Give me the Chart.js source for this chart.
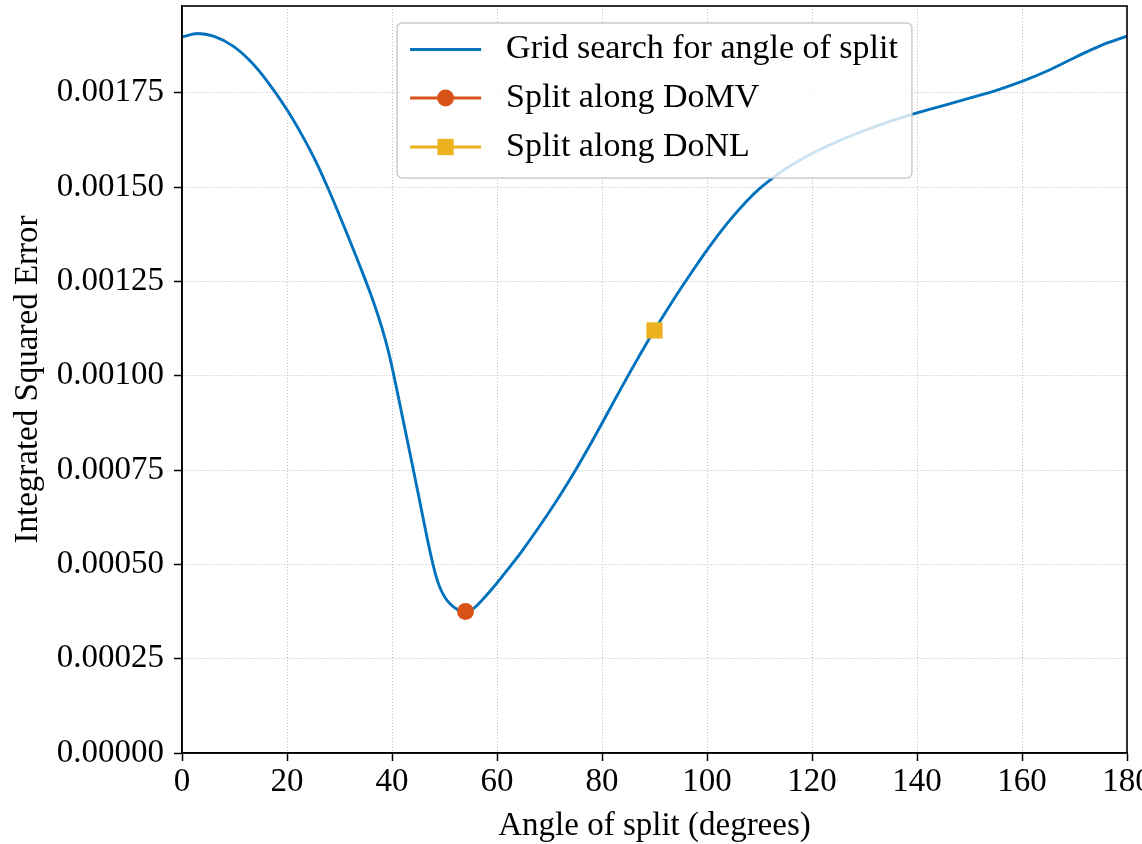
<!DOCTYPE html>
<html>
<head>
<meta charset="utf-8">
<script src="https://cdn.jsdelivr.net/npm/chart.js@4.4.1/dist/chart.umd.min.js"></script>
<style>
html,body{margin:0;padding:0;background:#ffffff;overflow:hidden}
canvas{display:block}
</style>
</head>
<body>
<canvas id="c" width="1142" height="844" style="width:1142px;height:844px"></canvas>
<script>
// ---- data ----
const angles = [0,3,6,9.8,13,16.1,20,22.8,25.6,28,31,34,36,37.5,38.7,39.6,40.5,41.5,43,44.3,45.5,46.7,47.8,48.6,49.4,50.2,51,52.5,54,55.5,57,59,61,63,65,67.5,70,72.5,75,77.5,80,82.5,85,87.5,90,92.5,95,97.5,100,102.5,105,107.5,110,112.5,115,117.5,120,125,130,135,140,145,150,155,160,165,170,175,180];
const errors = [0.001898,0.001907,0.001900,0.001873,0.001834,0.001783,0.001705,0.001639,0.001565,0.001491,0.001391,0.001287,0.001214,0.001153,0.001097,0.001048,0.000991,0.000924,0.000823,0.000735,0.000652,0.000569,0.000500,0.000459,0.000430,0.000410,0.000396,0.000380,0.000375,0.000383,0.000403,0.000434,0.000468,0.000503,0.000540,0.000589,0.000640,0.000694,0.000751,0.000811,0.000874,0.000938,0.001001,0.001062,0.001121,0.001177,0.001231,0.001283,0.001333,0.001380,0.001423,0.001462,0.001496,0.001524,0.001549,0.001570,0.001589,0.001622,0.001650,0.001675,0.001697,0.001716,0.001736,0.001756,0.001780,0.001809,0.001843,0.001875,0.001900];
const domvAngle = [54];
const domvError = [0.000375];
const donlAngle = [90];
const donlError = [0.00112];
const seriesLabels = ['Grid search for angle of split','Split along DoMV','Split along DoNL'];
const xTickValues = [0,20,40,60,80,100,120,140,160,180];
const yTickValues = [0,0.00025,0.0005,0.00075,0.001,0.00125,0.0015,0.00175];
const xTitle = 'Angle of split (degrees)';
const yTitle = 'Integrated Squared Error';

const toPts = (xs, ys) => xs.map((x, i) => ({x: x, y: ys[i]}));
const FONT = '"Liberation Serif", "Times New Roman", serif';
const BLUE = '#0072BD', RED = '#D95319', YELLOW = '#EDB120';

const frameAndLegend = {
  id: 'frameAndLegend',
  afterDatasetsDraw(chart) {
    const ctx = chart.ctx, a = chart.chartArea;
    ctx.save();
    ctx.font = '34px ' + FONT;
    const ds = chart.data.datasets;
    const tw = Math.max(...ds.map(d => ctx.measureText(d.label).width));
    const hx = 13, hw = 71, gap = 25, rp = 14;
    const w = hx + hw + gap + tw + rp, h = 155;
    const x0 = (a.left + a.right) / 2 - w / 2, y0 = a.top + 17;
    ctx.beginPath();
    ctx.roundRect(x0, y0, w, h, 5);
    ctx.fillStyle = 'rgba(255,255,255,0.8)';
    ctx.fill();
    ctx.lineWidth = 1.5;
    ctx.strokeStyle = '#cccccc';
    ctx.stroke();
    const rows = [26.5, 75, 124];
    ds.forEach((d, i) => {
      const cy = y0 + rows[i];
      ctx.beginPath();
      ctx.moveTo(x0 + hx, cy);
      ctx.lineTo(x0 + hx + hw, cy);
      ctx.strokeStyle = d.borderColor;
      ctx.lineWidth = 2.8;
      ctx.stroke();
      const cx = x0 + hx + hw / 2;
      ctx.fillStyle = d.backgroundColor;
      if (d.pointStyle === 'circle' && d.showLine === false) {
        ctx.beginPath(); ctx.arc(cx, cy, d.pointRadius, 0, Math.PI * 2); ctx.fill();
      } else if (d.pointStyle === 'rect') {
        const s = d.pointRadius * Math.SQRT1_2;
        ctx.fillRect(cx - s, cy - s, 2 * s, 2 * s);
      }
      ctx.fillStyle = '#000000';
      ctx.textBaseline = 'middle';
      ctx.textAlign = 'left';
      ctx.fillText(d.label, x0 + hx + hw + gap, cy);
    });
    ctx.restore();
  },
  afterDraw(chart) {
    const ctx = chart.ctx, a = chart.chartArea;
    ctx.save();
    ctx.strokeStyle = '#000000';
    ctx.lineWidth = 1.6;
    ctx.strokeRect(a.left, a.top, a.right - a.left, a.bottom - a.top);
    ctx.restore();
  }
};

new Chart(document.getElementById('c'), {
  type: 'line',
  data: {
    datasets: [
      {label: seriesLabels[0], data: toPts(angles, errors), borderColor: BLUE, backgroundColor: BLUE,
       borderWidth: 2.9, pointRadius: 0, cubicInterpolationMode: 'monotone', order: 3, pointStyle: 'circle'},
      {label: seriesLabels[1], data: toPts(domvAngle, domvError), borderColor: RED, backgroundColor: RED,
       showLine: false, pointRadius: 8.5, pointBorderWidth: 0, pointStyle: 'circle', order: 1},
      {label: seriesLabels[2], data: toPts(donlAngle, donlError), borderColor: YELLOW, backgroundColor: YELLOW,
       showLine: false, pointRadius: 11.5, pointBorderWidth: 0, pointStyle: 'rect', order: 2}
    ]
  },
  options: {
    responsive: false,
    animation: false,
    devicePixelRatio: 1,
    layout: {autoPadding: false, padding: {top: 6, right: 15, left: 0, bottom: 0}},
    plugins: {legend: {display: false}, tooltip: {enabled: false}},
    scales: {
      x: {
        type: 'linear', min: 0, max: 180,
        afterBuildTicks: s => { s.ticks = xTickValues.map(v => ({value: v})); },
        afterFit: s => { s.paddingLeft = 0; s.paddingRight = 0; s.height = 91; },
        ticks: {font: {family: FONT, size: 33}, color: '#000', padding: 2, maxRotation: 0,
                callback: v => String(v)},
        grid: {color: '#bdbdbd', lineWidth: 1, tickColor: '#000', tickLength: 8, tickWidth: 1.5},
        border: {display: true, color: '#000', width: 1.6, dash: [1, 2]},
        title: {display: true, text: xTitle, color: '#000', font: {family: FONT, size: 33, lineHeight: 1.0},
                padding: {top: 0, bottom: 1}}
      },
      y: {
        type: 'linear', min: 0, max: 0.00198,
        afterBuildTicks: s => { s.ticks = yTickValues.map(v => ({value: v})); },
        afterFit: s => { s.paddingTop = 0; s.paddingBottom = 0; s.width = 182; },
        ticks: {font: {family: FONT, size: 33}, color: '#000', padding: 10,
                callback: v => Number(v).toFixed(5)},
        grid: {color: '#bdbdbd', lineWidth: 1, tickColor: '#000', tickLength: 8, tickWidth: 1.5},
        border: {display: true, color: '#000', width: 1.6, dash: [1, 2]},
        title: {display: true, text: yTitle, color: '#000', font: {family: FONT, size: 33, lineHeight: 1.2},
                padding: {top: 9, bottom: 0}}
      }
    }
  },
  plugins: [frameAndLegend]
});
</script>
</body>
</html>
